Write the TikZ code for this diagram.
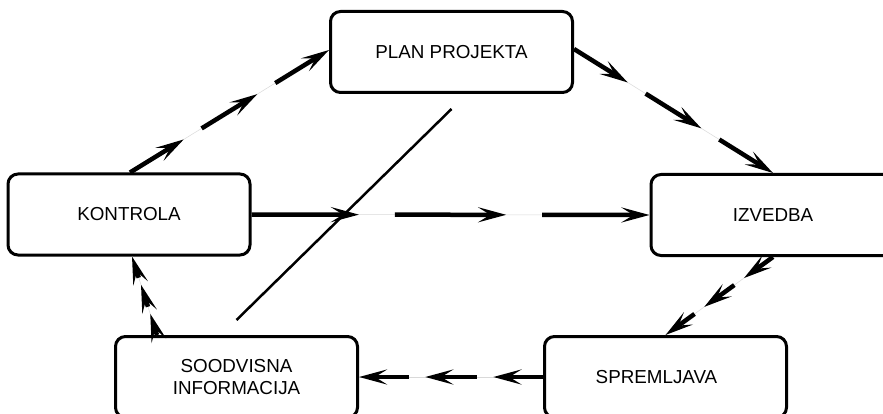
\documentclass[tikz,border=0pt]{standalone}
\usepackage{fontspec}
\setmainfont{Liberation Sans}
\usetikzlibrary{arrows.meta,calc}
\tikzset{
  box/.style={draw, line width=3pt, rounded corners=10pt, inner sep=0pt,
    minimum width=242pt, minimum height=81pt, align=center,
    font=\fontsize{18.8}{22}\selectfont},
  flowseg/.style={line width=4.5pt, -{Stealth[length=28pt,width=15pt,inset=12pt]}},
  faintline/.style={line width=0.5pt, black!15},
  plainline/.style={line width=2.5pt}
}
\newcommand\flowconn[2]{%
  \draw[faintline] (#1) -- (#2);
  \draw[flowseg] (#1) -- ($(#1)!0.27!(#2)$);
  \draw[flowseg] ($(#1)!0.36!(#2)$) -- ($(#1)!0.64!(#2)$);
  \draw[flowseg] ($(#1)!0.73!(#2)$) -- (#2);}
\begin{document}
\begin{tikzpicture}[x=1pt,y=-1pt]
\fill[white] (0,0) rectangle (883,414);
\useasboundingbox (0,0) rectangle (883,414);
\clip (0,0) rectangle (883,414);
\node[box] (plan) at (451.5,52) {PLAN PROJEKTA};
\node[box] (kontrola) at (129,214.5) {KONTROLA};
\node[box, minimum width=244pt] (izvedba) at (773,215) {IZVEDBA};
\node[box] (soodvisna) at (236.5,377) {SOODVISNA\\INFORMACIJA};
\node[box] (spremljava) at (665.5,377) {SPREMLJAVA\hspace{18pt}};
\coordinate (pe) at ([yshift=3pt]plan.east);
\coordinate (sn) at ([xshift=43pt]soodvisna.north west);
\coordinate (ks) at ([xshift=3pt]kontrola.south);
\coordinate (kn) at ([xshift=1pt]kontrola.north);
\coordinate (pw) at ([yshift=2pt]plan.west);
\flowconn{kn}{pw}
\flowconn{pe}{izvedba.north}
\flowconn{kontrola.east}{izvedba.west}
\flowconn{izvedba.south}{spremljava.north}
\flowconn{spremljava.west}{soodvisna.east}
\flowconn{sn}{ks}
\coordinate (d1) at ([yshift=15pt]soodvisna.north);
\coordinate (d2) at ([yshift=-15pt]plan.south);
\draw[plainline] (d1) -- (d2);
\end{tikzpicture}
\end{document}
